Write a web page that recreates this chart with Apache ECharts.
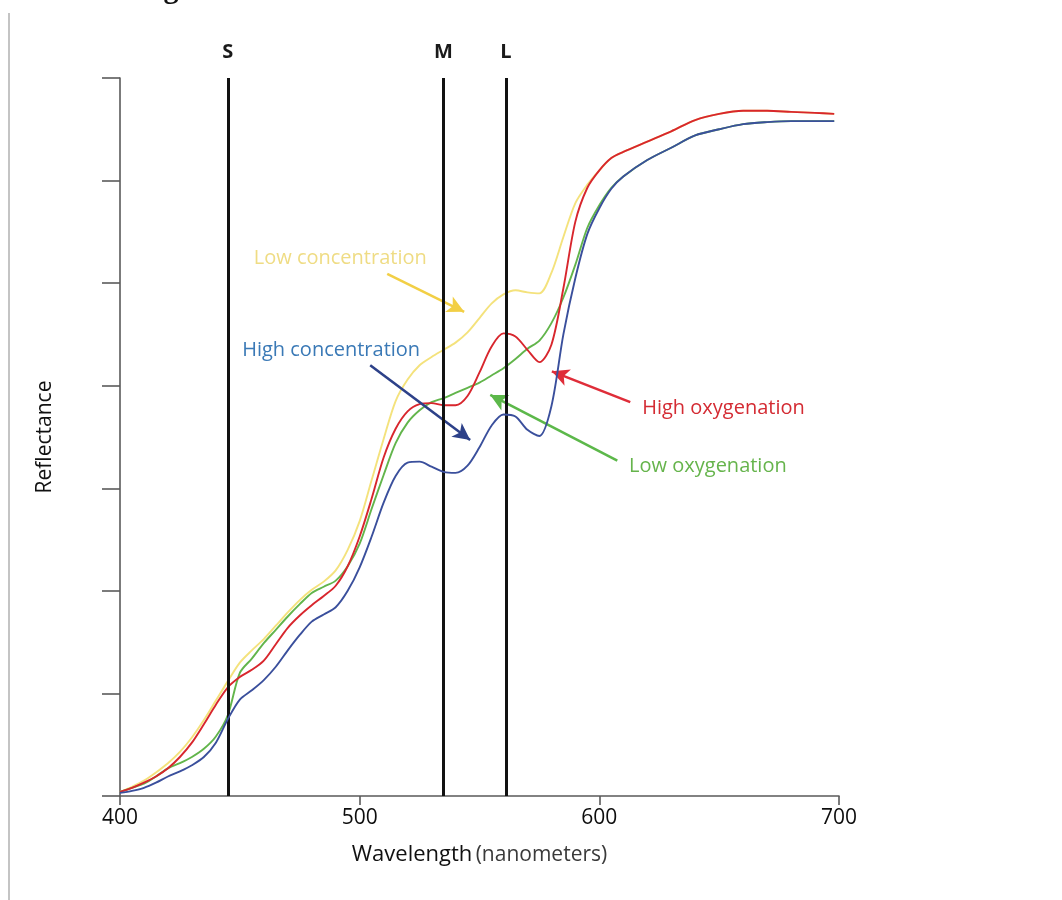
<!DOCTYPE html>
<html><head><meta charset="utf-8">
<script src="https://cdn.jsdelivr.net/npm/echarts@6/dist/echarts.min.js"></script>
<style>html,body{margin:0;padding:0;background:#fff}#c{width:1062px;height:900px}</style>
</head><body><div id="c"></div>
<script>
// Wavelength samples (nm)
const wavelengths = [400,405,410,415,420,425,430,435,440,445,450,455,460,465,470,475,480,485,490,495,500,505,510,515,520,525,530,535,540,545,550,555,560,565,570,575,580,585,590,595,600,605,610,620,630,640,650,660,670,680,690,698];
// Reflectance curves (arbitrary units, axis 0-70)
const lowConcentration = [0.4,0.9,1.5,2.3,3.2,4.3,5.7,7.4,9.3,11.2,13.0,14.2,15.3,16.6,17.9,19.1,20.1,20.9,22.0,24.0,26.8,30.8,34.8,38.5,40.6,42.0,42.8,43.5,44.2,45.2,46.6,48.0,48.9,49.3,49.1,49.0,51.0,54.5,57.8,59.6,61.0,62.2,62.8,63.8,64.8,65.9,66.5,66.8,66.8,66.7,66.6,66.5];
const highOxygenation = [0.4,0.8,1.3,1.9,2.7,3.8,5.2,7.0,8.9,10.6,11.6,12.3,13.2,14.8,16.4,17.6,18.6,19.5,20.5,22.4,25.3,29.0,33.0,35.8,37.5,38.2,38.3,38.1,38.1,39.0,41.3,43.8,45.1,44.8,43.5,42.3,44.0,49.5,56.0,59.3,61.0,62.2,62.8,63.8,64.8,65.9,66.5,66.8,66.8,66.7,66.6,66.5];
const lowOxygenation = [0.4,0.8,1.2,1.9,2.7,3.2,3.8,4.6,5.8,7.9,12.0,13.4,14.9,16.2,17.5,18.7,19.8,20.4,21.0,22.4,24.6,28.0,31.3,34.4,36.4,37.6,38.4,38.8,39.3,39.8,40.3,41.0,41.7,42.6,43.6,44.4,46.1,48.6,51.8,55.4,57.6,59.3,60.4,62.0,63.2,64.4,65.0,65.5,65.7,65.8,65.8,65.8];
const highConcentration = [0.3,0.5,0.8,1.3,1.9,2.4,3.0,3.8,5.2,7.5,9.4,10.3,11.3,12.6,14.2,15.7,17.0,17.7,18.4,20.0,22.3,25.3,28.6,31.2,32.5,32.6,32.1,31.6,31.5,32.2,34.0,36.1,37.2,37.0,35.7,35.1,38.0,45.0,50.5,54.8,57.3,59.2,60.4,62.0,63.2,64.4,65.0,65.5,65.7,65.8,65.8,65.8];
// Axis ticks
const xTicks = [400, 500, 600, 700];
const yTicks = [0, 10, 20, 30, 40, 50, 60, 70];
// Cone sensitivity peaks
const coneNames = ['S', 'M', 'L'];
const conePeaks = [445, 535, 561];
// Annotations (data coordinates: wavelength, reflectance)
const annotTexts = ['Low concentration', 'High concentration', 'High oxygenation', 'Low oxygenation'];
const annotTextAt = [[491.9, 52.4], [488.1, 43.5], [651.8, 37.8], [645.3, 32.1]];
const arrowFrom = [[511.5, 50.9], [504.4, 42.0], [612.9, 38.4], [607.5, 32.7]];
const arrowTo = [[543.6, 47.2], [546.1, 34.7], [580.2, 41.4], [554.5, 39.1]];

const FONT = '"Open Sans", "Noto Sans", sans-serif';
const curveColors = ['#f4e27c', '#62b54b', '#d8262d', '#3a4f9c'];
const textColors = ['#efdc84', '#3a79b6', '#d42b33', '#66b44c'];
const arrowColors = ['#f2cf45', '#2d4189', '#df2d39', '#5cb84a'];
const curves = [lowConcentration, lowOxygenation, highOxygenation, highConcentration];
const curveNames = ['Low concentration', 'Low oxygenation', 'High oxygenation', 'High concentration'];
// annotation index for each curve
const annotIdx = [0, 3, 2, 1];

function pairs(vals) { return wavelengths.map((w, i) => [w, vals[i]]); }

const series = curves.map((vals, k) => {
  const a = annotIdx[k];
  return {
    name: curveNames[k], type: 'line', data: pairs(vals), smooth: 0.3,
    showSymbol: false, silent: true, z: 2 + k,
    lineStyle: { color: curveColors[k], width: 1.9 },
    markLine: {
      silent: true, symbol: ['none', 'arrow'], symbolSize: [13, 17],
      lineStyle: { color: arrowColors[a], width: 2.6, type: 'solid' },
      label: { show: false },
      data: [[{ coord: arrowFrom[a] }, { coord: arrowTo[a] }]]
    },
    markPoint: {
      silent: true, symbol: 'circle', symbolSize: 1,
      itemStyle: { color: 'rgba(0,0,0,0)' },
      label: { show: true, position: 'inside', formatter: annotTexts[a], color: textColors[a], fontSize: 20, fontFamily: FONT },
      data: [{ coord: annotTextAt[a] }]
    }
  };
});

series.push({
  name: 'cones', type: 'line', data: [], z: 10, silent: true,
  markLine: {
    silent: true, symbol: ['none', 'none'],
    lineStyle: { color: '#111', width: 3, type: 'solid' },
    label: { show: true, position: 'end', formatter: '{b}', fontSize: 20, fontWeight: 'bold', color: '#1a1a1a', distance: 16, fontFamily: FONT },
    data: coneNames.map((n, i) => ({ name: n, xAxis: conePeaks[i] }))
  }
});

const chart = echarts.init(document.getElementById('c'), null, { renderer: 'canvas' });
chart.setOption({
  animation: false,
  backgroundColor: '#fff',
  grid: { left: 120, right: 223, top: 78, bottom: 104, containLabel: false },
  xAxis: {
    type: 'value', min: xTicks[0], max: xTicks[xTicks.length - 1], interval: 100,
    axisLine: { lineStyle: { color: '#5a5a5a', width: 1.6 } },
    axisTick: { show: true, length: 9, lineStyle: { color: '#5a5a5a', width: 1.6 } },
    axisLabel: { margin: 12, fontSize: 21, color: '#0d0d0d', fontFamily: FONT },
    splitLine: { show: false },
    name: '{a|Wavelength} {b|(nanometers)}', nameLocation: 'middle', nameGap: 48,
    nameTextStyle: { rich: {
      a: { fontSize: 22, color: '#111', fontFamily: FONT },
      b: { fontSize: 21, color: '#3a3a3a', fontFamily: FONT }
    } }
  },
  yAxis: {
    type: 'value', min: yTicks[0], max: yTicks[yTicks.length - 1], interval: 10,
    axisLine: { show: true, lineStyle: { color: '#5a5a5a', width: 1.6 } },
    axisTick: { show: true, length: 18, lineStyle: { color: '#5a5a5a', width: 1.6 } },
    axisLabel: { show: false },
    splitLine: { show: false },
    name: 'Reflectance', nameLocation: 'middle', nameRotate: 90, nameGap: 64,
    nameTextStyle: { fontSize: 21, color: '#111', fontFamily: FONT }
  },
  graphic: [
    { type: 'line', silent: true, shape: { x1: 9, y1: 13, x2: 9, y2: 900 }, style: { stroke: '#b0b0b0', lineWidth: 1.5 } },
    { type: 'text', silent: true, x: 171, y: -10, style: { text: 'g', font: 'bold 30px "Liberation Serif", serif', fill: '#111', align: 'center', verticalAlign: 'middle' } }
  ],
  series: series
});
</script></body></html>
